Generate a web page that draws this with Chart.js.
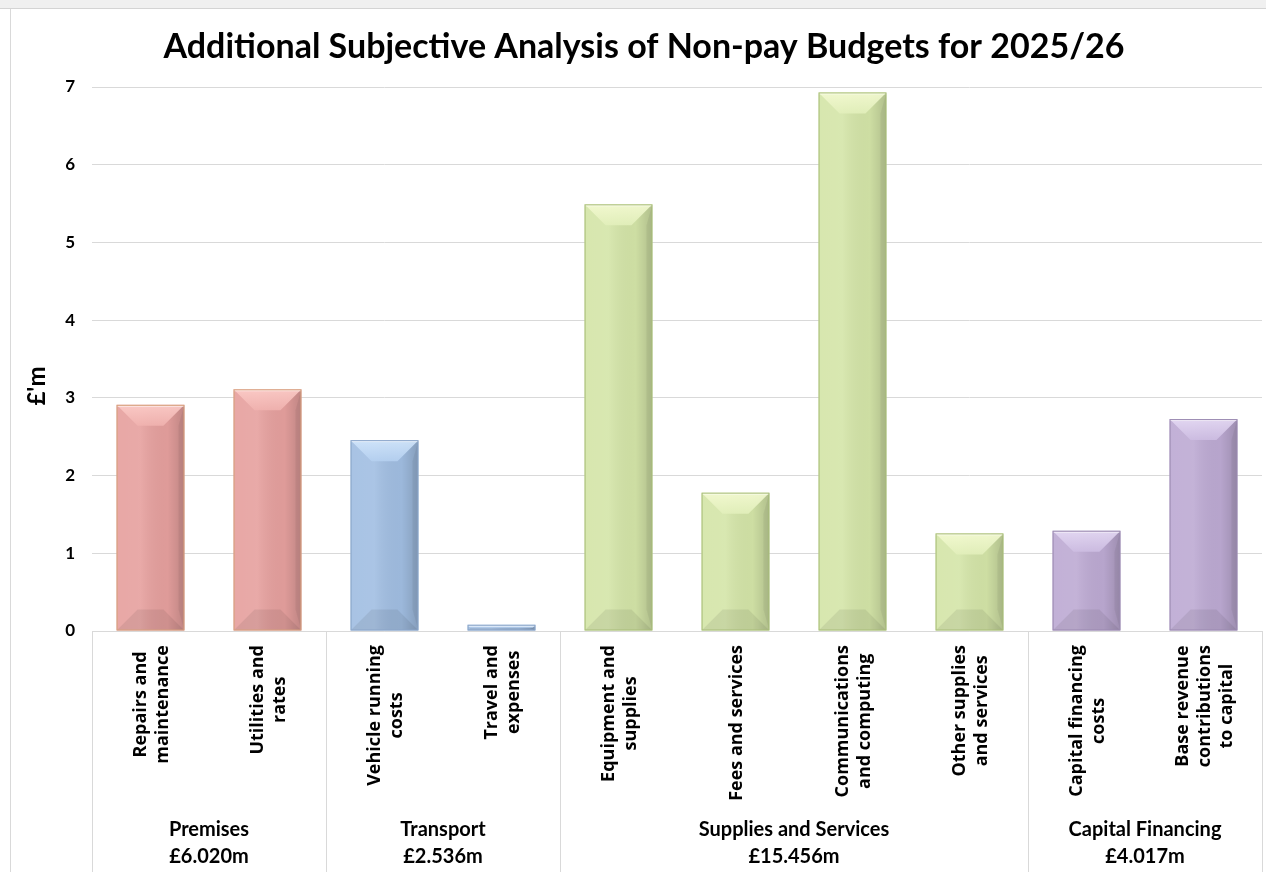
<!DOCTYPE html>
<html>
<head>
<meta charset="utf-8">
<script src="https://cdn.jsdelivr.net/npm/chart.js@4/dist/chart.umd.min.js"></script>
<style>
  html, body { margin: 0; padding: 0; background: #fff; overflow: hidden; width: 1266px; height: 872px; }
  #band { position: absolute; left: 0; top: 0; width: 1266px; height: 8px; background: #f0f0f0; border-bottom: 1px solid #d4d4d4; }
  #frame { position: absolute; left: 10px; top: 9px; width: 1px; height: 863px; background: #d9d9d9; }
  #chart { position: absolute; left: 11px; top: 9px; }
</style>
</head>
<body>
<div id="band"></div>
<div id="frame"></div>
<canvas id="chart" width="1266" height="863"></canvas>
<script>
// Non-pay budget lines, £m
const categories = [
  ["Repairs and", "maintenance"],
  ["Utilities and", "rates"],
  ["Vehicle running", "costs"],
  ["Travel and", "expenses"],
  ["Equipment and", "supplies"],
  ["Fees and services"],
  ["Communications", "and computing"],
  ["Other supplies", "and services"],
  ["Capital financing", "costs"],
  ["Base revenue", "contributions", "to capital"],
];
const values = [2.91, 3.11, 2.456, 0.08, 5.49, 1.78, 6.93, 1.256, 1.29, 2.727];

const groupNames = ["Premises", "Transport", "Supplies and Services", "Capital Financing"];
const groupTotals = ["£6.020m", "£2.536m", "£15.456m", "£4.017m"];
const groupSizes = [2, 2, 4, 2];

const yMin = 0;
const yMax = 7;
const yStep = 1;

const TITLE = "Additional Subjective Analysis of Non-pay Budgets for 2025/26";
const Y_TITLE = "£'m";

const FONT_MAIN = "Lato, 'Open Sans', sans-serif";
const FONT_CAT = "'Open Sans', Lato, sans-serif";

// fill / bevel / edge per group
const PALETTE = [
  { fill: "#e6a09e", light: "#fcccc8", mid: "#f0b2af", edge: "#d6a07c" },
  { fill: "#a1bee2", light: "#d2e6fb", mid: "#b5d0f0", edge: "#8aa5c9" },
  { fill: "#d4e5a8", light: "#f4fad2", mid: "#e2efbb", edge: "#a8bd78" },
  { fill: "#bdaad3", light: "#e5daf4", mid: "#cdbde2", edge: "#9a89b0" },
];

const barGroup = [];
groupSizes.forEach((n, g) => { for (let i = 0; i < n; i++) barGroup.push(g); });

// ---------------------------------------------------------------------------
// Bevel shading on top of each bar
// ---------------------------------------------------------------------------
const bevelPlugin = {
  id: "bevel",
  afterDatasetsDraw(chart) {
    const ctx = chart.ctx;
    const meta = chart.getDatasetMeta(0);
    meta.data.forEach((bar, i) => {
      const { x, y, base, width } = bar.getProps(["x", "y", "base", "width"], true);
      const pal = PALETTE[barGroup[i]];
      const l = x - width / 2, r = x + width / 2, t = y, b = base;
      const h = b - t;
      const d = Math.min(21, h / 2, width / 2);
      ctx.save();
      ctx.beginPath(); ctx.rect(l, t, width, h); ctx.clip();

      // soft left-to-right shading, darker towards right edge
      const gx = ctx.createLinearGradient(l, 0, r, 0);
      gx.addColorStop(0, "rgba(255,255,255,0.08)");
      gx.addColorStop(0.35, "rgba(255,255,255,0.10)");
      gx.addColorStop(0.75, "rgba(0,0,0,0.03)");
      gx.addColorStop(1, "rgba(0,0,0,0.17)");
      ctx.fillStyle = gx;
      ctx.fillRect(l, t, width, h);

      // right side face
      ctx.beginPath();
      ctx.moveTo(r, t); ctx.lineTo(r, b); ctx.lineTo(r - 6, b - d); ctx.lineTo(r - 6, t + d); ctx.closePath();
      ctx.fillStyle = "rgba(0,0,0,0.05)";
      ctx.fill();

      // top face
      const gt = ctx.createLinearGradient(0, t, 0, t + d);
      gt.addColorStop(0, pal.light);
      gt.addColorStop(1, pal.mid);
      ctx.beginPath();
      ctx.moveTo(l, t); ctx.lineTo(r, t); ctx.lineTo(r - d, t + d); ctx.lineTo(l + d, t + d); ctx.closePath();
      ctx.globalAlpha = 0.9;
      ctx.fillStyle = gt;
      ctx.fill();
      ctx.globalAlpha = 1;

      // bottom face
      ctx.beginPath();
      ctx.moveTo(l, b); ctx.lineTo(r, b); ctx.lineTo(r - d, b - d); ctx.lineTo(l + d, b - d); ctx.closePath();
      ctx.fillStyle = "rgba(0,0,0,0.07)";
      ctx.fill();

      // highlight along the top edge
      ctx.fillStyle = "rgba(255,255,255,0.55)";
      ctx.fillRect(l, t, width, 2);
      ctx.restore();

      ctx.save();
      ctx.strokeStyle = pal.edge;
      ctx.lineWidth = 1;
      ctx.strokeRect(l + 0.5, t + 0.5, width - 1, h - 1);
      ctx.restore();
    });
  },
};

// ---------------------------------------------------------------------------
// Title, y title and the two-level category axis
// ---------------------------------------------------------------------------
const axisPlugin = {
  id: "multiAxis",
  afterDraw(chart) {
    const ctx = chart.ctx;
    const xs = chart.scales.x;
    const area = chart.chartArea;
    const catW = xs.getPixelForValue(1) - xs.getPixelForValue(0);
    const edge = k => xs.getPixelForValue(0) - catW / 2 + k * catW;

    ctx.save();
    ctx.fillStyle = "#000";
    ctx.textBaseline = "middle";

    // chart title
    ctx.font = "bold 34px " + FONT_MAIN;
    ctx.textAlign = "center";
    ctx.fillText(TITLE, chart.width / 2, 38);

    // y axis title
    ctx.save();
    ctx.translate(26, 377);
    ctx.rotate(-Math.PI / 2);
    ctx.font = "bold 24px " + FONT_MAIN;
    ctx.fillText(Y_TITLE, 0, 0);
    ctx.restore();

    // axis line and group dividers
    ctx.strokeStyle = "#d9d9d9";
    ctx.lineWidth = 1;
    ctx.beginPath();
    ctx.moveTo(area.left, Math.round(area.bottom) + 0.5);
    ctx.lineTo(area.right, Math.round(area.bottom) + 0.5);
    let k = 0;
    const cuts = [0];
    groupSizes.forEach(n => { k += n; cuts.push(k); });
    cuts.forEach(c => {
      const px = Math.round(edge(c)) + 0.5;
      ctx.moveTo(px, area.bottom);
      ctx.lineTo(px, chart.height);
    });
    ctx.stroke();

    // rotated category labels
    ctx.font = "bold 18px " + FONT_CAT;
    const lineGap = 22;
    categories.forEach((lines, i) => {
      const cx = xs.getPixelForValue(i) + 1.5;
      const maxW = Math.max(...lines.map(s => ctx.measureText(s).width));
      const cy = area.bottom + 14 + maxW / 2;
      lines.forEach((s, j) => {
        const lx = cx + (j - (lines.length - 1) / 2) * lineGap;
        ctx.save();
        ctx.translate(lx, cy);
        ctx.rotate(-Math.PI / 2);
        ctx.textAlign = "center";
        ctx.fillText(s, 0, 0);
        ctx.restore();
      });
    });

    // group labels with totals
    ctx.font = "bold 20px " + FONT_MAIN;
    ctx.textAlign = "center";
    groupNames.forEach((name, g) => {
      const gx = (edge(cuts[g]) + edge(cuts[g + 1])) / 2;
      ctx.fillText(name, gx, 821);
      ctx.fillText(groupTotals[g], gx, 848);
    });
    ctx.restore();
  },
};

new Chart(document.getElementById("chart"), {
  type: "bar",
  data: {
    labels: categories,
    datasets: [{
      data: values,
      backgroundColor: barGroup.map(g => PALETTE[g].fill),
      borderWidth: 0,
      categoryPercentage: 1,
      barPercentage: 0.58,
    }],
  },
  options: {
    responsive: false,
    animation: false,
    layout: { padding: { top: 78, right: 15, left: 0, bottom: 0 } },
    plugins: {
      legend: { display: false },
      tooltip: { enabled: false },
    },
    scales: {
      x: {
        grid: { display: false, drawTicks: false },
        border: { display: false },
        ticks: { display: false },
        afterFit: s => { s.height = 241; },
      },
      y: {
        min: yMin,
        max: yMax,
        ticks: {
          stepSize: yStep,
          padding: 17,
          color: "#000",
          font: { family: FONT_MAIN, size: 17, weight: "bold" },
        },
        grid: { color: "#d9d9d9", lineWidth: 1, drawTicks: false },
        border: { display: false },
        afterFit: s => { s.width = 81; },
      },
    },
  },
  plugins: [bevelPlugin, axisPlugin],
});
</script>
</body>
</html>
